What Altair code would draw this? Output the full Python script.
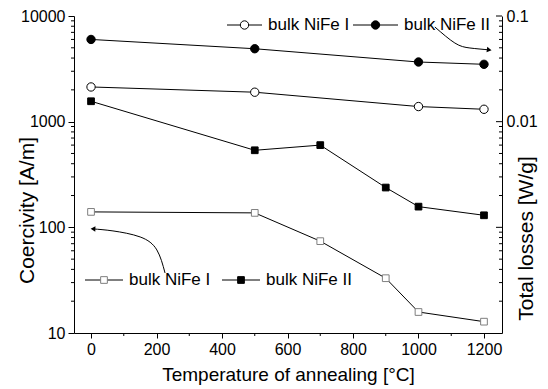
import altair as alt
import pandas as pd

# ---------------- data ----------------
series = ["bulk NiFe I", "bulk NiFe II"]
temps_sq = [0, 500, 700, 900, 1000, 1200]
coerc_I = [140, 137, 74, 33, 15.8, 12.8]
coerc_II = [1560, 536, 600, 238, 157, 130]
temps_ci = [0, 500, 1000, 1200]
loss_I = [0.0213, 0.0190, 0.0139, 0.0131]
loss_II = [0.060, 0.049, 0.0367, 0.0349]

x_major = [0, 200, 400, 600, 800, 1000, 1200]
x_minor = [100, 300, 500, 700, 900, 1100]
left_major = [10, 100, 1000, 10000]
left_minor = [k * 10 ** e for e in (1, 2, 3) for k in range(2, 10)]
right_labels = [0.01, 0.1]
right_major = [0.001, 0.01, 0.1]
right_minor = [round(k * 10.0 ** e, 6) for e in (-4, -3, -2) for k in range(2, 10)]

# annotation arrows (data coordinates, left scale)
arrow_top_T = [1050, 1111, 1157, 1216]
arrow_top_c = [7870, 5550, 4980, 4780]
arrow_bot_T = [226, 201, 150, 67, 6]
arrow_bot_c = [37.0, 61.1, 81.1, 92.5, 96.6]

W, H = 428, 317
FONT = "Liberation Sans"

df_cI = pd.DataFrame({"T": temps_sq, "c": coerc_I})
df_cII = pd.DataFrame({"T": temps_sq, "c": coerc_II})
df_lI = pd.DataFrame({"T": temps_ci, "v": loss_I})
df_lII = pd.DataFrame({"T": temps_ci, "v": loss_II})

x_enc = alt.X(
    "T:Q",
    scale=alt.Scale(domain=[-52, 1255], nice=False, zero=False),
    axis=alt.Axis(
        values=x_major, format="d", tickSize=5, tickColor="black",
        domainColor="black", labelColor="black", labelFontSize=16,
        labelFont=FONT, labelPadding=3, title="Temperature of annealing [°C]",
        titleFont=FONT, titleFontSize=19, titleFontWeight="normal",
        titleColor="black", titleY=41, titleBaseline="middle", grid=False,
    ),
)
y_left = alt.Y(
    "c:Q",
    scale=alt.Scale(type="log", domain=[10, 10000], nice=False),
    axis=alt.Axis(
        values=left_major, format="d", tickSize=6, tickColor="black",
        domainColor="black", labelColor="black", labelFontSize=16,
        labelFont=FONT, labelPadding=3, title="Coercivity [A/m]",
        titleFont=FONT, titleFontSize=21, titleFontWeight="normal",
        titleColor="black", titleAngle=270, titleX=-47, titleY=194,
        titleAlign="center", titleBaseline="middle", grid=False,
    ),
)
y_right = alt.Y(
    "v:Q",
    scale=alt.Scale(type="log", domain=[0.0001, 0.1], nice=False),
    axis=alt.Axis(
        orient="right", values=right_labels, format="~g", ticks=False,
        domainColor="black", labelColor="black", labelFontSize=16,
        labelFont=FONT, labelPadding=4, title="Total losses [W/g]",
        titleFont=FONT, titleFontSize=21, titleFontWeight="normal",
        titleColor="black", titleAngle=270, titleX=24, titleY=222,
        titleAlign="center", titleBaseline="middle", grid=False,
    ),
)

dummy = alt.Data(values=[{"a": 1}])


def series_layers(df, y, shape, size, fill, stroke):
    line = alt.Chart(df).mark_line(color="black", strokeWidth=1).encode(x=x_enc, y=y)
    pts = alt.Chart(df).mark_point(
        shape=shape, size=size, fill=fill, stroke=stroke, strokeWidth=1,
        opacity=1, fillOpacity=1,
    ).encode(x=x_enc, y=y)
    return [line, pts]


def legend_item(xl, xr, yc, shape, size, fill, stroke, text):
    ln = alt.Chart(dummy).mark_rule(color="black", strokeWidth=1).encode(
        x=alt.value(xl), x2=alt.value(xr), y=alt.value(yc))
    pt = alt.Chart(dummy).mark_point(
        shape=shape, size=size, fill=fill, stroke=stroke, strokeWidth=1,
        opacity=1, fillOpacity=1).encode(x=alt.value((xl + xr) / 2), y=alt.value(yc))
    tx = alt.Chart(dummy).mark_text(
        text=text, font=FONT, fontSize=17, color="black", align="left",
        baseline="middle").encode(x=alt.value(xr + 6), y=alt.value(yc))
    return [ln, pt, tx]


# ---------------- left (coercivity) layer ----------------
left_layers = []
left_layers += series_layers(df_cI, y_left, "square", 45, "white", "#7f7f7f")
left_layers += series_layers(df_cII, y_left, "square", 45, "black", "black")

left_layers.append(
    alt.Chart(pd.DataFrame({"c": left_minor})).mark_rule(color="black", strokeWidth=1)
    .encode(y=y_left, x=alt.value(-3), x2=alt.value(0)))
left_layers.append(
    alt.Chart(pd.DataFrame({"T": x_minor})).mark_rule(color="black", strokeWidth=1)
    .encode(x=x_enc, y=alt.value(H), y2=alt.value(H + 3)))

arr_top = pd.DataFrame({"T": arrow_top_T, "c": arrow_top_c, "i": range(len(arrow_top_T))})
arr_bot = pd.DataFrame({"T": arrow_bot_T, "c": arrow_bot_c, "i": range(len(arrow_bot_T))})
left_layers.append(alt.Chart(arr_top).mark_line(color="black", strokeWidth=1, interpolate="natural")
                   .encode(x=x_enc, y=y_left, order="i:Q"))
left_layers.append(alt.Chart(arr_bot).mark_line(color="black", strokeWidth=1, interpolate="natural")
                   .encode(x=x_enc, y=y_left, order="i:Q"))
left_layers.append(alt.Chart(arr_top.tail(1)).mark_point(
    shape="triangle-right", size=30, filled=True, color="black", opacity=1, angle=8)
    .encode(x=x_enc, y=y_left))
left_layers.append(alt.Chart(arr_bot.tail(1)).mark_point(
    shape="triangle-left", size=30, filled=True, color="black", opacity=1, angle=2)
    .encode(x=x_enc, y=y_left))

left_layers += legend_item(153, 188, 9, "circle", 70, "white", "black", series[0])
left_layers += legend_item(279, 324, 9, "circle", 70, "black", "black", series[1])
left_layers += legend_item(11, 49, 264, "square", 45, "white", "#7f7f7f", series[0])
left_layers += legend_item(148, 186, 264, "square", 45, "black", "black", series[1])

# ---------------- right (losses) layer ----------------
right_layers = []
right_layers += series_layers(df_lI, y_right, "circle", 70, "white", "black")
right_layers += series_layers(df_lII, y_right, "circle", 70, "black", "black")
right_layers.append(
    alt.Chart(pd.DataFrame({"v": right_major})).mark_rule(color="black", strokeWidth=1)
    .encode(y=y_right, x=alt.value(W - 6), x2=alt.value(W)))
right_layers.append(
    alt.Chart(pd.DataFrame({"v": right_minor})).mark_rule(color="black", strokeWidth=1)
    .encode(y=y_right, x=alt.value(W - 3), x2=alt.value(W)))

chart = (
    alt.layer(alt.layer(*left_layers), alt.layer(*right_layers))
    .resolve_scale(y="independent")
    .properties(
        width=W, height=H,
        autosize=alt.AutoSizeParams(type="none"),
        padding={"left": 66, "top": 8, "right": 38, "bottom": 56},
        background="white",
    )
    .configure_view(stroke=None)
    .configure_axis(grid=False)
)

chart.save("out.html", embed_options={"renderer": "svg", "actions": False})
